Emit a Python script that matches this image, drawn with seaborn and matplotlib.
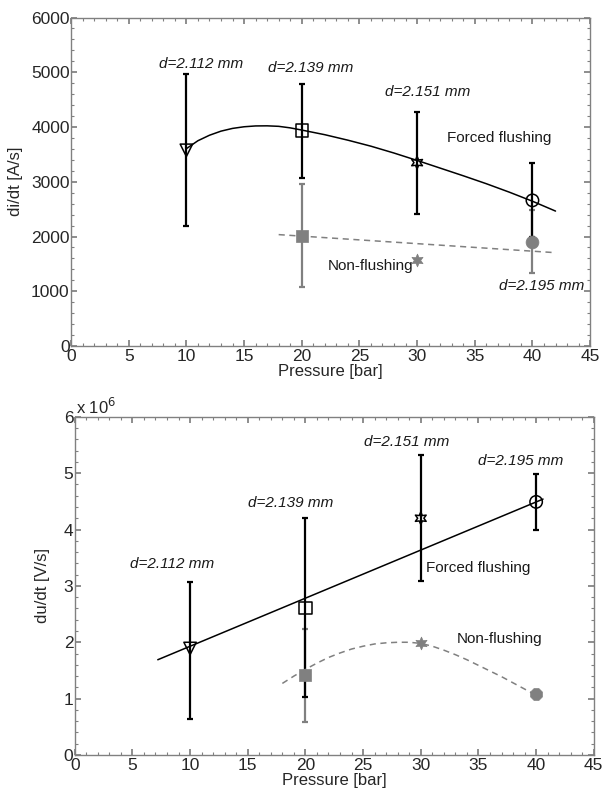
import numpy as np
import pandas as pd
import seaborn as sns
import matplotlib.pyplot as plt
from matplotlib.ticker import MultipleLocator

# ---- data ----
pressure = [10, 20, 30, 40]

# di/dt [A/s]
didt_forced = [3575, 3940, 3350, 2660]
didt_forced_lo = [2200, 3075, 2420, 2000]
didt_forced_hi = [4960, 4795, 4280, 3335]
didt_non_p = [20, 30, 40]
didt_non = [2015, 1565, 1900]
didt_non_lo = [1080, None, 1335]
didt_non_hi = [2965, None, 2480]

didt_fit_x = [10, 11, 12, 13, 14, 15, 16, 17, 18, 19, 20, 22, 24, 26, 28, 30,
              32, 34, 36, 38, 40, 42]
didt_fit_y = [3605, 3750, 3850, 3925, 3975, 4005, 4020, 4022, 4013, 3985, 3945,
              3860, 3760, 3650, 3525, 3390, 3250, 3110, 2965, 2810, 2645, 2465]
didt_non_fit_x = [18, 42]
didt_non_fit_y = [2035, 1705]

# du/dt [x 10^6 V/s]
dudt_forced = [1.89, 2.61, 4.20, 4.49]
dudt_forced_lo = [0.63, 1.03, 3.09, 3.99]
dudt_forced_hi = [3.07, 4.21, 5.32, 4.99]
dudt_non_p = [20, 30, 40]
dudt_non = [1.42, 1.99, 1.08]
dudt_non_lo = [0.59, None, None]
dudt_non_hi = [2.24, None, None]

dudt_fit_x = [7.2, 40.6]
dudt_fit_y = [1.69, 4.54]
dudt_non_fit_x = [18, 19, 20, 21, 22, 23, 24, 25, 26, 27, 28, 29, 30, 31, 32,
                  33, 34, 35, 36, 37, 38, 39, 40]
dudt_non_fit_y = [1.27, 1.40, 1.52, 1.63, 1.73, 1.81, 1.88, 1.93, 1.97, 1.99,
                  2.00, 2.00, 1.98, 1.93, 1.86, 1.78, 1.69, 1.59, 1.49, 1.39,
                  1.28, 1.17, 1.06]

forced_markers = ["v", "s", (6, 1, 0), "o"]
didt_non_markers = ["s", (6, 1, 0), "o"]
dudt_non_markers = ["s", (6, 1, 0), "8"]

diam = ["d=2.112 mm", "d=2.139 mm", "d=2.151 mm", "d=2.195 mm"]

sns.set_theme(style="ticks")
plt.rcParams["font.family"] = ["Liberation Sans", "DejaVu Sans"]
plt.rcParams.update({
    "xtick.minor.visible": True, "ytick.minor.visible": True,
    "xtick.direction": "in", "ytick.direction": "in",
    "xtick.top": True, "ytick.right": True,
    "xtick.major.size": 4.5, "ytick.major.size": 4.5,
    "xtick.minor.size": 2.5, "ytick.minor.size": 2.5,
    "xtick.minor.width": 0.8, "ytick.minor.width": 0.8,
})

GREY = "#808080"
TXT = "#1a1a1a"
fig = plt.figure(figsize=(6.05, 7.94), dpi=100)
ax1 = fig.add_axes([0.1174, 0.5642, 0.858, 0.4137])
ax2 = fig.add_axes([0.1235, 0.0491, 0.858, 0.4260])


def draw_errors(ax, xs, ys, lo, hi, color, lw):
    for x, y, l, h in zip(xs, ys, lo, hi):
        if l is None:
            continue
        ax.errorbar([x], [y], yerr=[[y - l], [h - y]], fmt="none", ecolor=color,
                    elinewidth=lw, capsize=2.5, capthick=lw, zorder=2)


def draw_panel(ax, forced, f_lo, f_hi, non_p, non, n_lo, n_hi, non_markers,
               fit_x, fit_y, nfit_x, nfit_y):
    draw_errors(ax, non_p, non, n_lo, n_hi, GREY, 1.6)
    draw_errors(ax, pressure, forced, f_lo, f_hi, "black", 1.6)
    sns.lineplot(x=fit_x, y=fit_y, ax=ax, color="black", lw=1.1, zorder=3)
    sns.lineplot(x=nfit_x, y=nfit_y, ax=ax, color=GREY, lw=1.1, zorder=3,
                 linestyle=(0, (4, 3)))
    for x, y, m in zip(pressure, forced, forced_markers):
        ax.scatter([x], [y], marker=m, s=80, facecolors="none",
                   edgecolors="black", linewidths=1.1, zorder=4)
    for x, y, m in zip(non_p, non, non_markers):
        ax.scatter([x], [y], marker=m, s=85, color=GREY, edgecolors=GREY,
                   linewidths=0.5, zorder=4)
    ax.set_xlim(0, 45)
    ax.xaxis.set_major_locator(MultipleLocator(5))
    ax.xaxis.set_minor_locator(MultipleLocator(1))
    ax.tick_params(which="both", color=GREY, labelsize=12.5)
    ax.tick_params(axis="x", pad=2)
    ax.tick_params(axis="y", pad=1)
    for s in ax.spines.values():
        s.set_color(GREY)
        s.set_linewidth(1.0)
    ax.set_xlabel("Pressure [bar]", fontsize=12, labelpad=0)


draw_panel(ax1, didt_forced, didt_forced_lo, didt_forced_hi, didt_non_p, didt_non,
           didt_non_lo, didt_non_hi, didt_non_markers,
           didt_fit_x, didt_fit_y, didt_non_fit_x, didt_non_fit_y)
ax1.set_ylim(0, 6000)
ax1.yaxis.set_major_locator(MultipleLocator(1000))
ax1.yaxis.set_minor_locator(MultipleLocator(200))
ax1.set_ylabel("di/dt [A/s]", fontsize=12, labelpad=6)

txt = dict(fontsize=11, style="italic", ha="center", va="center", color=TXT)
lab = dict(fontsize=11, ha="center", va="center", color=TXT)
ax1.text(11.3, 5160, diam[0], **txt)
ax1.text(20.8, 5070, diam[1], **txt)
ax1.text(30.9, 4640, diam[2], **txt)
ax1.text(40.8, 1100, diam[3], **txt)
ax1.text(37.1, 3800, "Forced flushing", **lab)
ax1.text(26.0, 1460, "Non-flushing", **lab)

draw_panel(ax2, dudt_forced, dudt_forced_lo, dudt_forced_hi, dudt_non_p, dudt_non,
           dudt_non_lo, dudt_non_hi, dudt_non_markers,
           dudt_fit_x, dudt_fit_y, dudt_non_fit_x, dudt_non_fit_y)
ax2.set_ylim(0, 6)
ax2.yaxis.set_major_locator(MultipleLocator(1))
ax2.yaxis.set_minor_locator(MultipleLocator(0.2))
ax2.set_ylabel("du/dt [V/s]", fontsize=12, labelpad=10)
ax2.text(0.003, 1.0, "x 10$^6$", transform=ax2.transAxes, fontsize=12,
         ha="left", va="bottom")

ax2.text(8.45, 3.39, diam[0], **txt)
ax2.text(18.7, 4.47, diam[1], **txt)
ax2.text(28.8, 5.56, diam[2], **txt)
ax2.text(38.7, 5.22, diam[3], **txt)
ax2.text(35.0, 3.32, "Forced flushing", **lab)
ax2.text(36.8, 2.05, "Non-flushing", **lab)

fig.savefig("out.png", dpi=100)
